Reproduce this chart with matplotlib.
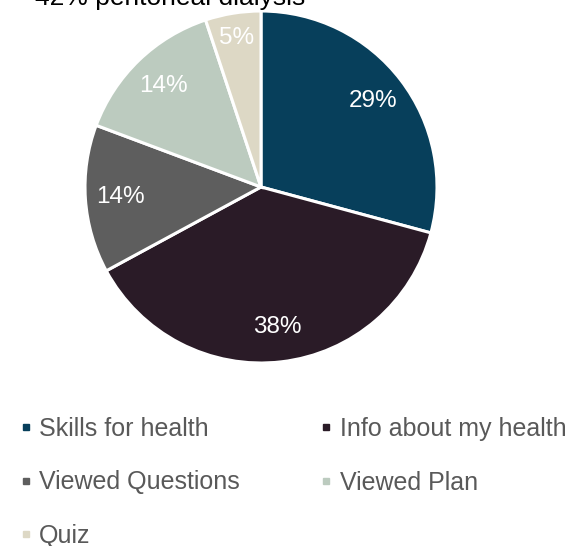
import matplotlib
matplotlib.use("Agg")
import matplotlib.pyplot as plt
from matplotlib.lines import Line2D
import numpy as np

plt.rcParams["font.family"] = ["Liberation Sans", "DejaVu Sans"]

# data
categories = ["Skills for health", "Info about my health", "Viewed Questions",
              "Viewed Plan", "Quiz"]
shares = [29.2, 37.9, 13.6, 14.2, 5.1]
pct_labels = ["29%", "38%", "14%", "14%", "5%"]
colors = ["#073F5B", "#2A1B27", "#5E5E5E", "#BCCBBF", "#DDD8C5"]
title = "42% peritoneal dialysis"

W, H = 572, 546
fig = plt.figure(figsize=(W / 100, H / 100), dpi=100)

cx, cy, r = 261, 187, 176
ax = fig.add_axes([(cx - r) / W, 1 - (cy + r) / H, 2 * r / W, 2 * r / H])

wedges, _ = ax.pie(shares, colors=colors, startangle=90, counterclock=False,
                   radius=1.0, wedgeprops=dict(edgecolor="white", linewidth=2.2))
ax.set_xlim(-1, 1)
ax.set_ylim(-1, 1)
ax.set_aspect("equal")
ax.axis("off")

# percentage labels along each wedge's mid angle
for w, lab in zip(wedges, pct_labels):
    mid = np.deg2rad((w.theta1 + w.theta2) / 2)
    d = 0.8 if lab != "5%" else 0.86
    ax.text(d * np.cos(mid), d * np.sin(mid), lab, color="white",
            fontsize=17.5, ha="center", va="center")

# title, clipped at the top edge as in the source
fig.text(35 / W, 1 - 5 / H, title, fontsize=19, color="black",
         ha="left", va="baseline")

# legend filled row by row (matplotlib fills columns first)
order = [0, 2, 4, 1, 3]
handles = [Line2D([], [], linestyle="none", marker="s", markersize=5,
                  markerfacecolor=colors[i], markeredgecolor=colors[i]) for i in order]
labels = [categories[i] for i in order]
fig.legend(handles, labels, ncol=2, loc="upper left",
           bbox_to_anchor=(8 / W, 1 - 407 / H), frameon=False,
           fontsize=18, labelcolor="#595959", handlelength=0.6,
           handletextpad=0.25, columnspacing=3.15, labelspacing=1.18,
           borderaxespad=0)

fig.savefig("out.png", dpi=100)
